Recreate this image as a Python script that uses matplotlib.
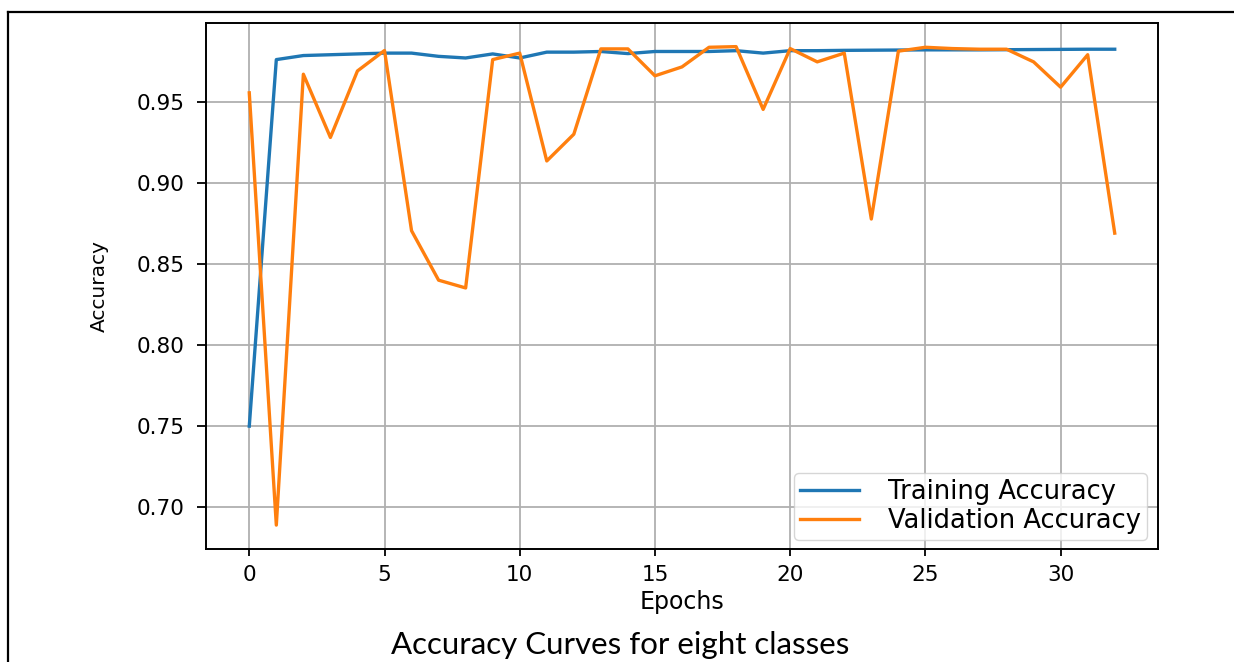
import matplotlib
matplotlib.use("Agg")
import matplotlib.pyplot as plt
from matplotlib.lines import Line2D

plt.rcParams["font.family"] = ["DejaVu Sans"]

epochs = list(range(33))
train_acc = [0.750, 0.976, 0.9785, 0.979, 0.9795, 0.980, 0.980, 0.978, 0.977, 0.9795,
             0.977, 0.9806, 0.9806, 0.981, 0.9797, 0.981, 0.981, 0.981, 0.9815, 0.980,
             0.9815, 0.9815, 0.9817, 0.9818, 0.9819, 0.982, 0.982, 0.982, 0.9821, 0.9822,
             0.9823, 0.9824, 0.9824]
val_acc = [0.9555, 0.689, 0.967, 0.928, 0.969, 0.9816, 0.8705, 0.840, 0.8352, 0.976,
           0.980, 0.9135, 0.930, 0.9826, 0.9826, 0.966, 0.9715, 0.9836, 0.984, 0.9453,
           0.9828, 0.9746, 0.980, 0.8777, 0.9812, 0.9836, 0.9828, 0.9824, 0.9824, 0.9746,
           0.959, 0.979, 0.869]

W, H = 1234, 662
L, R, T, B = 206, 1158, 22.7, 549
fig = plt.figure(figsize=(W / 100, H / 100), dpi=100)
ax = fig.add_axes([L / W, 1 - B / H, (R - L) / W, (B - T) / H])

ax.plot(epochs, train_acc, color="#1f77b4", lw=2.4, label="Training Accuracy")
ax.plot(epochs, val_acc, color="#ff7f0e", lw=2.4, label="Validation Accuracy")

ax.grid(True, color="#b0b0b0", lw=1.3)
ax.set_axisbelow(True)
ax.tick_params(axis="x", labelsize=15.5, length=5.3, width=1.3, pad=6)
ax.tick_params(axis="y", labelsize=15.5, length=6.8, width=1.3, pad=8.5)
for s in ax.spines.values():
    s.set_linewidth(1.4)

ax.set_xlabel("Epochs", fontsize=17)
ax.xaxis.set_label_coords(0.5, -0.078)
ax.set_ylabel("Accuracy", fontsize=14.5)
ax.yaxis.set_label_coords(-0.102, 0.5)

leg = ax.legend(loc="lower right", fontsize=18.5, frameon=True, handlelength=2.3,
                borderpad=0.25, labelspacing=0.1, handletextpad=1.1,
                borderaxespad=0, bbox_to_anchor=((1147 - L) / (R - L), (B - 540) / (B - T)))

fig.text(620 / W, 1 - 654 / H, "Accuracy Curves for eight classes", ha="center",
         va="baseline", fontsize=22.5, family=["Lato", "DejaVu Sans"])

fig.add_artist(Line2D([7.7 / W, 7.7 / W], [0, 1 - 12 / H], color="black", lw=1.6,
                      transform=fig.transFigure))
fig.add_artist(Line2D([7.7 / W, 1], [1 - 12 / H, 1 - 12 / H], color="black", lw=1.6,
                      transform=fig.transFigure))

fig.savefig("out.png", dpi=100)
